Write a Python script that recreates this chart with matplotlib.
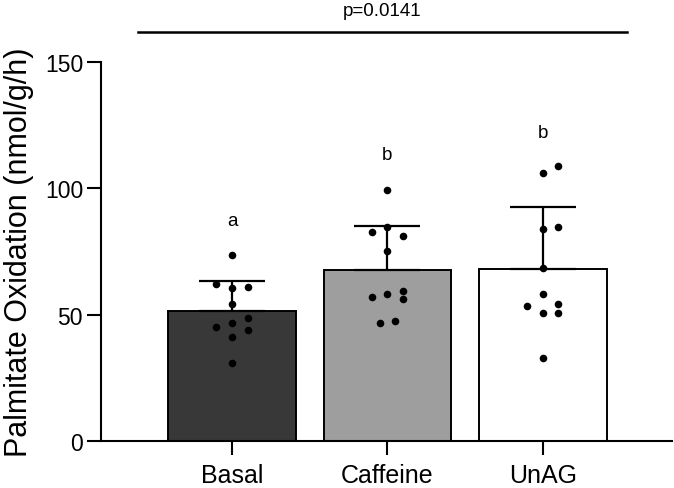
import numpy as np
import matplotlib
matplotlib.use('Agg')
import matplotlib.pyplot as plt

plt.rcParams['font.family'] = ['Liberation Sans', 'DejaVu Sans']

groups = ['Basal', 'Caffeine', 'UnAG']
means = [51.6, 67.8, 68.1]
sd = [11.8, 17.4, 24.6]
bar_colors = ['#383838', '#9e9e9e', '#ffffff']
letters = ['a', 'b', 'b']
letter_y = [87.2, 113.2, 122.2]

basal = [73.6, 62.1, 60.5, 60.8, 54.1, 48.5, 46.6, 45.1, 43.9, 41.0, 30.7]
caffeine = [99.5, 84.5, 82.6, 81.3, 75.2, 59.5, 58.2, 57.0, 56.1, 47.6, 46.7]
unag = [109.0, 106.1, 83.9, 84.7, 68.5, 58.0, 53.4, 54.1, 50.7, 50.8, 33.0]
points = [basal, caffeine, unag]

# horizontal scatter of the dots inside each bar
offsets = [
    [0, -0.1, 0, 0.1, 0, 0.1, 0, -0.1, 0.1, 0, 0],
    [0, 0, -0.1, 0.1, 0, 0.1, 0, -0.1, 0.1, 0.05, -0.05],
    [0.1, 0, 0, 0.1, 0, 0, -0.1, 0.1, 0, 0.1, 0],
]

p_text = 'p=0.0141'

fig = plt.figure(figsize=(6.74, 4.89), dpi=100)
ax = fig.add_axes([0.150, 0.0961, 0.847, 0.7751])

x = np.arange(len(groups))
ax.bar(x, means, width=0.82, color=bar_colors, edgecolor='black', linewidth=1.4, zorder=1)
ax.errorbar(x, means, yerr=[np.zeros(len(sd)), sd], fmt='none', ecolor='black',
            elinewidth=1.6, capsize=24, capthick=1.6, zorder=2)

for i, vals in enumerate(points):
    ax.scatter(x[i] + np.array(offsets[i]), vals, s=30, color='black', zorder=3, linewidths=0)
    ax.text(x[i], letter_y[i], letters[i], ha='center', va='center', fontsize=13.5)

# p-value bracket over all groups
ax.plot([-0.605, 2.54], [162, 162], color='black', lw=1.8, clip_on=False)
ax.text(0.968, 170.5, p_text, ha='center', va='center', fontsize=13.5)

ax.set_xlim(-0.842, 2.83)
ax.set_ylim(0, 150)
ax.set_yticks([0, 50, 100, 150])
ax.set_xticks(x)
ax.set_xticklabels(groups, fontsize=18)
ax.tick_params(axis='y', labelsize=16.5, length=10, width=1.5, pad=3)
ax.tick_params(axis='x', length=10, width=1.5, pad=6)
ax.spines['top'].set_visible(False)
ax.spines['right'].set_visible(False)
ax.spines['left'].set_linewidth(1.5)
ax.spines['bottom'].set_linewidth(1.5)
ax.set_ylabel('Palmitate Oxidation (nmol/g/h)', fontsize=22)
ax.yaxis.set_label_coords(-0.118, 0.5)

plt.savefig('out.png', dpi=100)
plt.close()
